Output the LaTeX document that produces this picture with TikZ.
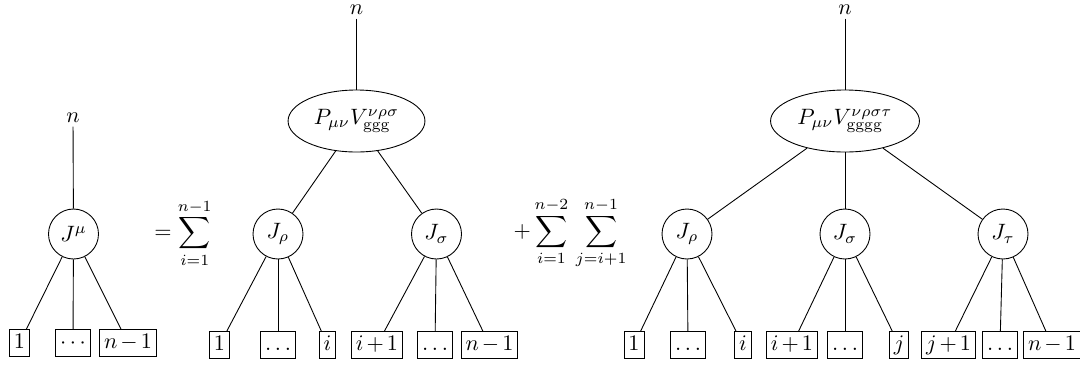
\documentclass[tikz,border=0pt]{standalone}
\usetikzlibrary{shapes.geometric}
\begin{document}
\begin{tikzpicture}[x=0.45pt,y=-0.45pt,
  lbl/.style={inner sep=1.5pt},
  cur/.style={draw,circle,minimum size=22.5pt,inner sep=0pt},
  vtx/.style={draw,ellipse,minimum width=61.6pt,minimum height=27.9pt,inner sep=0pt},
  leaf/.style={draw,rectangle,text height=1.55ex,text depth=0.3ex,inner xsep=2pt,inner ysep=2pt,
    execute at begin node={\medmuskip=2.5mu}},
  sumlbl/.style={inner sep=0pt}]
\useasboundingbox (0,0) rectangle (1080,370);
% tree 1
\node[lbl] (n1) at (73,118) {$n$};
\node[cur] (J1) at (73.5,234) {$J^{\mu}$};
\node[leaf] (a1) at (19.5,343) {$1$};
\node[leaf] (a2) at (73,343) {$\cdots$};
\node[leaf] (a3) at (128,343) {$n-1$};
\draw (n1) -- (J1);
\draw (J1) -- (a1); \draw (J1) -- (a2); \draw (J1) -- (a3);
% first sum
\node[sumlbl] (s1) at (183,233) {$=\displaystyle\sum_{i=1}^{n-1}$};
% tree 2
\node[lbl] (n2) at (356.5,10) {$n$};
\node[vtx] (V2) at (356.5,121) {$P_{\mu\nu}V^{\nu\rho\sigma}_{\mathrm{ggg}}$};
\node[cur] (R2) at (278,234) {$J_{\rho}$};
\node[cur] (S2) at (436.5,234) {$J_{\sigma}$};
\node[leaf] (b1) at (219.5,345) {$1$};
\node[leaf] (b2) at (278,345) {$\ldots$};
\node[leaf] (b3) at (327.5,345) {$i$};
\node[leaf] (b4) at (377,345) {$i+1$};
\node[leaf] (b5) at (435,345) {$\ldots$};
\node[leaf] (b6) at (489.5,345) {$n-1$};
\draw (n2) -- (V2);
\draw (V2) -- (R2); \draw (V2) -- (S2);
\draw (R2) -- (b1); \draw (R2) -- (b2); \draw (R2) -- (b3);
\draw (S2) -- (b4); \draw (S2) -- (b5); \draw (S2) -- (b6);
% second sum
\node[sumlbl] (s2) at (570,233) {$+\displaystyle\sum_{i=1}^{n-2}\,\sum_{j=i+1}^{n-1}$};
% tree 3
\node[lbl] (n3) at (845,10) {$n$};
\node[vtx,minimum width=67pt] (V3) at (845,121) {$P_{\mu\nu}V^{\nu\rho\sigma\tau}_{\mathrm{gggg}}$};
\node[cur] (R3) at (687,234) {$J_{\rho}$};
\node[cur] (S3) at (845,234) {$J_{\sigma}$};
\node[cur] (T3) at (1003,234) {$J_{\tau}$};
\node[leaf] (c1) at (634,345) {$1$};
\node[leaf] (c2) at (688,345) {$\ldots$};
\node[leaf] (c3) at (743,345) {$i$};
\node[leaf] (c4) at (792,345) {$i+1$};
\node[leaf] (c5) at (845,345) {$\ldots$};
\node[leaf] (c6) at (899,345) {$j$};
\node[leaf] (c7) at (948.5,345) {$j+1$};
\node[leaf] (c8) at (1000,345) {$\ldots$};
\node[leaf] (c9) at (1052,345) {$n-1$};
\draw (n3) -- (V3);
\draw (V3) -- (R3); \draw (V3) -- (S3); \draw (V3) -- (T3);
\draw (R3) -- (c1); \draw (R3) -- (c2); \draw (R3) -- (c3);
\draw (S3) -- (c4); \draw (S3) -- (c5); \draw (S3) -- (c6);
\draw (T3) -- (c7); \draw (T3) -- (c8); \draw (T3) -- (c9);
\end{tikzpicture}
\end{document}
